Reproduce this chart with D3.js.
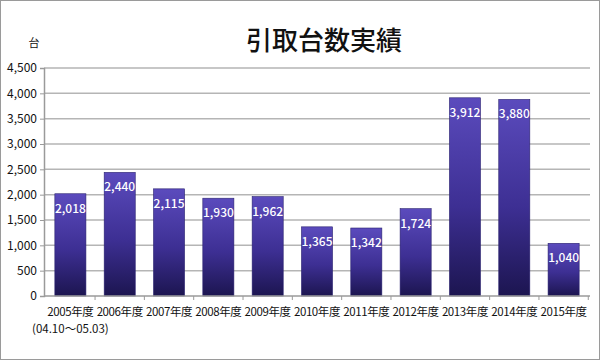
<!DOCTYPE html>
<html>
<head>
<meta charset="utf-8">
<script src="https://cdn.jsdelivr.net/npm/d3@7"></script>
<style>
  body { margin: 0; background: #fff; }
  svg { display: block; font-family: "Noto Sans CJK JP", "Noto Sans", sans-serif; }
</style>
</head>
<body>
<script>
// Width and height
var w = 600,
    h = 360;

var margin = {top: 68, right: 10, bottom: 64, left: 44};

// data
var years = ['2005年度', '2006年度', '2007年度', '2008年度', '2009年度', '2010年度',
             '2011年度', '2012年度', '2013年度', '2014年度', '2015年度'];
var counts = [2018, 2440, 2115, 1930, 1962, 1365, 1342, 1724, 3912, 3880, 1040];
var yTicks = [0, 500, 1000, 1500, 2000, 2500, 3000, 3500, 4000, 4500];
var subLabel = '(04.10～05.03)';

var dataset = years.map(function(y, i) { return {year: y, count: counts[i]}; });

var svg = d3.select('body')
            .append('svg')
            .attr('width', w)
            .attr('height', h);

// outer frame
svg.append('rect')
   .attr('x', 0.5).attr('y', 0.5)
   .attr('width', w - 1).attr('height', h - 1)
   .attr('fill', '#fff')
   .attr('stroke', '#9a9a9a');

var defs = svg.append('defs');
var grad = defs.append('linearGradient')
               .attr('id', 'barGrad')
               .attr('x1', 0).attr('y1', 0)
               .attr('x2', 0).attr('y2', 1);
grad.append('stop').attr('offset', '0%').attr('stop-color', '#5b4bbd');
grad.append('stop').attr('offset', '55%').attr('stop-color', '#3d2f93');
grad.append('stop').attr('offset', '100%').attr('stop-color', '#1c1550');

// scales
var xScale = d3.scaleBand()
               .domain(years)
               .range([margin.left, w - margin.right])
               .paddingInner(0.37)
               .paddingOuter(0.22);

var yScale = d3.scaleLinear()
               .domain([0, 4500])
               .range([h - margin.bottom, margin.top]);

// gridlines
svg.append('g')
   .selectAll('line')
   .data(yTicks.slice(1))
   .enter()
   .append('line')
   .attr('x1', margin.left)
   .attr('x2', w - margin.right)
   .attr('y1', function(d) { return yScale(d); })
   .attr('y2', function(d) { return yScale(d); })
   .attr('stroke', '#b5b5b5')
   .attr('stroke-width', 1.5);

// bars
svg.selectAll('rect.bar')
   .data(dataset)
   .enter()
   .append('rect')
   .attr('class', 'bar')
   .attr('x', function(d) { return xScale(d.year); })
   .attr('y', function(d) { return yScale(d.count); })
   .attr('width', xScale.bandwidth())
   .attr('height', function(d) { return yScale(0) - yScale(d.count); })
   .attr('fill', 'url(#barGrad)')
   .attr('stroke', '#2a2270')
   .attr('stroke-width', 0.6);

// value labels
svg.selectAll('text.val')
   .data(dataset)
   .enter()
   .append('text')
   .attr('class', 'val')
   .attr('x', function(d) { return xScale(d.year) + xScale.bandwidth() / 2; })
   .attr('y', function(d) { return yScale(d.count) + 19; })
   .attr('text-anchor', 'middle')
   .attr('fill', '#fff')
   .attr('font-size', 12)
   .attr('font-weight', 500)
   .text(function(d) { return d3.format(',')(d.count); });

// y axis
var yAxis = d3.axisLeft(yScale)
              .tickValues(yTicks)
              .tickFormat(d3.format(','))
              .tickSize(4);

var gy = svg.append('g')
   .attr('transform', 'translate(' + margin.left + ',0)')
   .call(yAxis);
gy.select('.domain').attr('stroke', '#9a9a9a').attr('stroke-width', 1.5);
gy.selectAll('.tick line').attr('stroke', '#9a9a9a');
gy.selectAll('.tick text')
  .attr('font-size', 12)
  .attr('fill', '#111')
  .attr('x', -7)
  .attr('font-family', '"Noto Sans CJK JP", sans-serif');

// x axis - ticks at category boundaries
var gx = svg.append('g')
   .attr('transform', 'translate(0,' + yScale(0) + ')');
gx.append('line')
  .attr('x1', margin.left).attr('x2', w - margin.right)
  .attr('stroke', '#9a9a9a').attr('stroke-width', 1.5);
var step = xScale.step();
gx.selectAll('line.tk')
  .data(years)
  .enter()
  .append('line')
  .attr('class', 'tk')
  .attr('x1', function(d) { return xScale(d) + xScale.bandwidth() + (step - xScale.bandwidth()) / 2; })
  .attr('x2', function(d) { return xScale(d) + xScale.bandwidth() + (step - xScale.bandwidth()) / 2; })
  .attr('y1', 0).attr('y2', 4)
  .attr('stroke', '#9a9a9a');
gx.selectAll('text')
  .data(years)
  .enter()
  .append('text')
  .attr('x', function(d) { return xScale(d) + xScale.bandwidth() / 2; })
  .attr('y', 20)
  .attr('text-anchor', 'middle')
  .attr('font-size', 11.5)
  .attr('letter-spacing', -0.4)
  .attr('fill', '#111')
  .text(function(d) { return d; });

gx.append('text')
  .attr('x', xScale(years[0]) + xScale.bandwidth() / 2)
  .attr('y', 37)
  .attr('text-anchor', 'middle')
  .attr('font-size', 11.5)
  .attr('fill', '#111')
  .text(subLabel);

// titles
svg.append('text')
   .attr('x', 324)
   .attr('y', 50)
   .attr('text-anchor', 'middle')
   .attr('font-size', 26)
   .attr('font-weight', 500)
   .attr('fill', '#111')
   .text('引取台数実績');

svg.append('text')
   .attr('x', 34)
   .attr('y', 47)
   .attr('text-anchor', 'middle')
   .attr('font-size', 11)
   .attr('fill', '#111')
   .text('台');
</script>
</body>
</html>
